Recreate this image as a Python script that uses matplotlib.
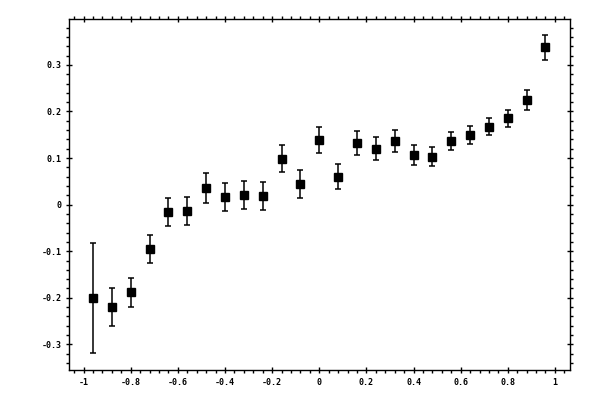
import numpy as np
import matplotlib
matplotlib.use("Agg")
import matplotlib.pyplot as plt
from matplotlib.ticker import MultipleLocator, FuncFormatter

# data
x = [-0.96, -0.88, -0.80, -0.72, -0.64, -0.56, -0.48, -0.40, -0.32, -0.24,
     -0.16, -0.08, 0.00, 0.08, 0.16, 0.24, 0.32, 0.40, 0.48, 0.56,
     0.64, 0.72, 0.80, 0.88, 0.96]
y = [-0.201, -0.220, -0.188, -0.095, -0.016, -0.014, 0.036, 0.016, 0.021, 0.018,
     0.099, 0.044, 0.139, 0.060, 0.133, 0.120, 0.137, 0.107, 0.103, 0.137,
     0.150, 0.167, 0.185, 0.225, 0.338]
yerr = [0.118, 0.040, 0.031, 0.030, 0.030, 0.030, 0.032, 0.030, 0.030, 0.030,
        0.029, 0.030, 0.028, 0.027, 0.026, 0.025, 0.024, 0.021, 0.021, 0.019,
        0.019, 0.018, 0.018, 0.021, 0.027]

fig = plt.figure(figsize=(6, 4), dpi=100)
ax = fig.add_axes([0.1158, 0.075, 0.95 - 0.1158, 0.9525 - 0.075])

ax.errorbar(x, y, yerr=yerr, fmt="s", color="black", markersize=5.5,
            elinewidth=1.1, capsize=2.5, capthick=1.1)

ax.set_xlim(-1.06, 1.064)
ax.set_ylim(-0.355, 0.3985)

ax.xaxis.set_major_locator(MultipleLocator(0.2))
ax.xaxis.set_minor_locator(MultipleLocator(0.04))
ax.yaxis.set_major_locator(MultipleLocator(0.1))
ax.yaxis.set_minor_locator(MultipleLocator(0.02))


def fmt(v, pos):
    if abs(v) < 1e-9:
        return "0"
    return "%g" % round(v, 2)


ax.xaxis.set_major_formatter(FuncFormatter(fmt))
ax.yaxis.set_major_formatter(FuncFormatter(fmt))

for s in ax.spines.values():
    s.set_linewidth(1.0)

ax.tick_params(which="major", direction="inout", length=5, width=1.0,
               top=True, right=True, labeltop=False, labelright=False,
               labelsize=6, pad=3)
ax.tick_params(which="minor", direction="out", length=2, width=1.0,
               top=True, right=True)
for lab in ax.get_xticklabels() + ax.get_yticklabels():
    lab.set_family("DejaVu Sans Mono")
    lab.set_fontweight("bold")

fig.savefig("out.png", dpi=100, facecolor="white")
